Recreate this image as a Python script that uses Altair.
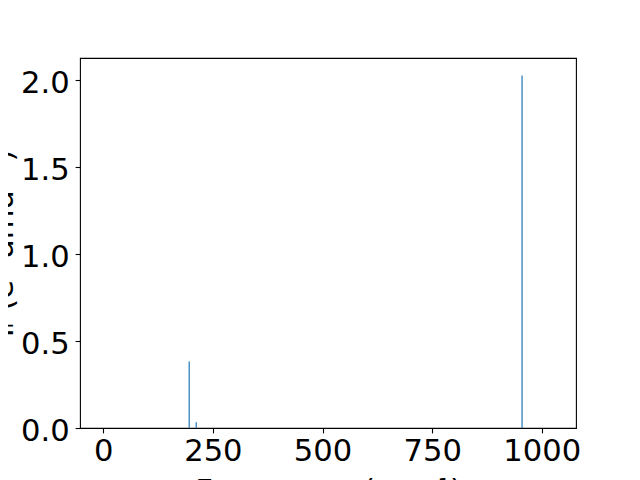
import altair as alt
import pandas as pd

freqs = [196, 212, 955]
intensities = [0.383, 0.033, 2.028]

df = pd.DataFrame({"freq": freqs, "ir": intensities, "zero": [0.0] * len(freqs)})

FONT = "DejaVu Sans"
FS = 30.6

x_axis = alt.Axis(
    values=[0, 250, 500, 750, 1000], format="d", grid=False, domain=False,
    tickColor="black", tickSize=4.9, tickWidth=1.1,
    labelFont=FONT, labelFontSize=FS, labelColor="black", labelPadding=4,
    title="Frequency (cm⁻¹)", titleFont=FONT, titleFontSize=FS,
    titleFontWeight="normal", titleColor="black",
    titleBaseline="alphabetic", titleY=72, titleX=248,
    labelFlush=False, labelOverlap=False,
)
y_axis = alt.Axis(
    values=[0, 0.5, 1.0, 1.5, 2.0], format=".1f", grid=False, domain=False,
    tickColor="black", tickSize=4.9, tickWidth=1.1,
    labelFont=FONT, labelFontSize=FS, labelColor="black", labelPadding=6,
    labelOffset=3, labelFlush=False, labelOverlap=False,
    title="Iᵣ (e² amu⁻¹)", titleFont=FONT, titleFontSize=FS,
    titleFontWeight="normal", titleColor="black",
    titleAngle=270, titleBaseline="alphabetic", titleX=-68, titleY=185,
)

chart = alt.Chart(df).mark_rule(color="#1f77b4", strokeWidth=1.2).encode(
    x=alt.X("freq:Q", scale=alt.Scale(domain=[-53, 1078], nice=False, zero=False), axis=x_axis),
    y=alt.Y("zero:Q", scale=alt.Scale(domain=[0, 2.128], nice=False), axis=y_axis),
    y2="ir:Q",
).properties(
    width=496, height=370,
    autosize=alt.AutoSizeParams(type="none"),
    padding={"left": 72, "top": 50, "right": 56, "bottom": 52},
).configure(
    background="white",
    view=alt.ViewConfig(stroke="black", strokeWidth=1.1),
)

chart.save("out.html", embed_options={"renderer": "svg", "actions": False})
